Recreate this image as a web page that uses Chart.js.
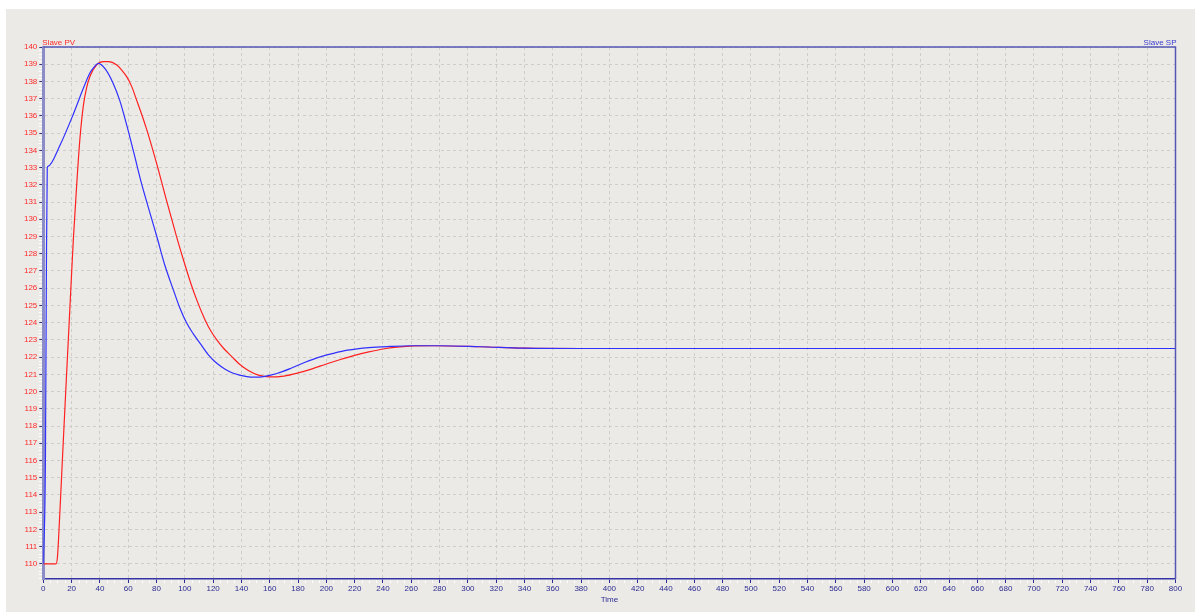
<!DOCTYPE html>
<html lang="en">
<head>
<meta charset="UTF-8">
<title>Slave PV / Slave SP</title>
<script src="https://cdn.jsdelivr.net/npm/chart.js"></script>
<style>
  body { margin: 0; background: #ffffff; }
  .panel {
    position: absolute;
    left: 6px;
    top: 9px;
    width: 1189px;
    height: 603px;
    background: #ebeae6;
  }
  canvas { display: block; }
</style>
</head>
<body>
<div class="panel"><canvas id="trendChart" width="1189" height="603"></canvas></div>
<script>
// Slave SP (setpoint) trend
const spTime  = [0, 1.5, 2.2, 2.8, 3.3, 11.8, 21.2, 28.3, 33, 36, 38.9, 44, 49, 54, 59, 64, 69, 74, 80.2,
                 86, 91.9, 96.5, 101.4, 106, 110.8, 116.5, 122.6, 128.5, 134.3, 143.8, 150, 155.5, 165,
                 175, 185, 195, 205, 215, 230, 245, 260, 280, 309, 340, 380, 800];
const spValue = [110, 116, 127.2, 133, 133.07, 134.3, 136.1, 137.6, 138.5, 138.85, 139.05, 138.7, 137.95,
                 136.9, 135.45, 133.85, 132.2, 130.75, 129.0, 127.3, 125.9, 124.85, 123.96, 123.35, 122.8,
                 122.15, 121.64, 121.3, 121.06, 120.87, 120.84, 120.87, 121.05, 121.35, 121.7, 122.0,
                 122.22, 122.4, 122.55, 122.62, 122.66, 122.66, 122.6, 122.52, 122.5, 122.5];

// Slave PV (process value) trend
const pvTime  = [0, 9, 10, 11, 13, 15, 17, 19, 21.2, 23.6, 25.9, 28.3, 30.5, 33, 37.7, 42.4, 46, 51.9, 55,
                 58.9, 62.5, 66, 69.5, 73.1, 80.2, 87.2, 94.3, 99, 104.2, 108.4, 114.3, 118.5, 122.6,
                 127.5, 133.2, 138.5, 144.9, 152, 160, 170, 180, 190, 200, 210, 220, 230, 240, 250, 262,
                 275, 309, 340, 380, 800];
const pvValue = [110, 110, 110.4, 111.8, 115.2, 118.6, 121.9, 125.2, 128.8, 132.0, 134.7, 136.6, 137.6,
                 138.3, 138.96, 139.15, 139.15, 138.96, 138.7, 138.28, 137.7, 136.9, 136.1, 135.2, 133.2,
                 131.05, 128.95, 127.65, 126.29, 125.32, 124.16, 123.5, 123.0, 122.5, 122.03, 121.6,
                 121.22, 120.95, 120.85, 120.9, 121.08, 121.32, 121.6, 121.86, 122.1, 122.3, 122.47,
                 122.58, 122.65, 122.66, 122.6, 122.52, 122.5, 122.5];

const xRange = [0, 800];
const yRange = [109.12, 140];
const xStep = 20;
const yStep = 1;

const FONT = 'Liberation Sans';
const toPoints = (ts, vs) => ts.map((t, i) => ({ x: t, y: vs[i] }));

// frame on top/right, small white minor ticks, and the two series captions
const trendFrame = {
  id: 'trendFrame',
  afterDraw(chart) {
    const { ctx, chartArea: a, scales } = chart;
    ctx.save();
    ctx.strokeStyle = '#5656b6';
    ctx.lineWidth = 1.5;
    ctx.beginPath();
    ctx.moveTo(a.left, a.top);
    ctx.lineTo(a.right, a.top);
    ctx.lineTo(a.right, a.bottom);
    ctx.stroke();

    ctx.strokeStyle = '#ffffff';
    ctx.lineWidth = 1;
    ctx.beginPath();
    for (let t = xRange[0] + 5; t < xRange[1]; t += 5) {
      if (t % xStep === 0) continue;
      const px = Math.round(scales.x.getPixelForValue(t)) + 0.5;
      ctx.moveTo(px, a.bottom + 1.5);
      ctx.lineTo(px, a.bottom + 4);
    }
    for (let k = Math.ceil(yRange[0] * 5); k < yRange[1] * 5; k++) {
      if (k % 5 === 0) continue;
      const py = Math.round(scales.y.getPixelForValue(k / 5)) + 0.5;
      ctx.moveTo(a.left - 4.5, py);
      ctx.lineTo(a.left - 1.5, py);
    }
    ctx.stroke();

    ctx.font = '8px "' + FONT + '"';
    ctx.textBaseline = 'alphabetic';
    ctx.textAlign = 'left';
    ctx.fillStyle = '#ff2a2a';
    ctx.fillText('Slave PV', a.left - 1, a.top - 2.5);
    ctx.textAlign = 'right';
    ctx.fillStyle = '#3a3ad0';
    ctx.fillText('Slave SP', a.right + 1, a.top - 2.5);
    ctx.restore();
  }
};

new Chart(document.getElementById('trendChart'), {
  type: 'line',
  data: {
    datasets: [
      {
        label: 'Slave SP',
        data: toPoints(spTime, spValue),
        borderColor: '#3030ff',
        borderWidth: 1.2,
        pointRadius: 0,
        cubicInterpolationMode: 'monotone',
        order: 0
      },
      {
        label: 'Slave PV',
        data: toPoints(pvTime, pvValue),
        borderColor: '#ff2020',
        borderWidth: 1.2,
        pointRadius: 0,
        cubicInterpolationMode: 'monotone',
        order: 1
      }
    ]
  },
  options: {
    responsive: false,
    animation: false,
    devicePixelRatio: 1,
    layout: { padding: { left: 0, top: 38, right: 19.5, bottom: 0 } },
    plugins: { legend: { display: false }, tooltip: { enabled: false } },
    scales: {
      x: {
        type: 'linear',
        min: xRange[0],
        max: xRange[1],
        afterFit(scale) { scale.height = 33; },
        ticks: {
          stepSize: xStep,
          autoSkip: false,
          maxRotation: 0,
          padding: 1,
          color: '#2c2c92',
          font: { family: FONT, size: 8 }
        },
        grid: {
          color: '#cfcdc9',
          tickColor: '#2c2c92',
          tickLength: 4,
          tickBorderDash: []
        },
        border: { color: '#3434a6', width: 1.5, dash: [3, 3] },
        title: {
          display: true,
          text: 'Time',
          color: '#2c2c92',
          font: { family: FONT, size: 8 },
          padding: { top: 0, bottom: 7 }
        }
      },
      y: {
        min: yRange[0],
        max: yRange[1],
        afterFit(scale) { scale.width = 37.3; },
        afterBuildTicks(scale) {
          scale.ticks = scale.ticks.filter(t => Number.isInteger(t.value));
        },
        ticks: {
          stepSize: yStep,
          autoSkip: false,
          padding: 2,
          color: '#ff2a2a',
          font: { family: FONT, size: 8 }
        },
        grid: {
          color: '#cfcdc9',
          tickColor: '#34347a',
          tickLength: 4,
          tickBorderDash: []
        },
        border: { color: '#8c8cc8', width: 3, dash: [3, 3] }
      }
    }
  },
  plugins: [trendFrame]
});
</script>
</body>
</html>
